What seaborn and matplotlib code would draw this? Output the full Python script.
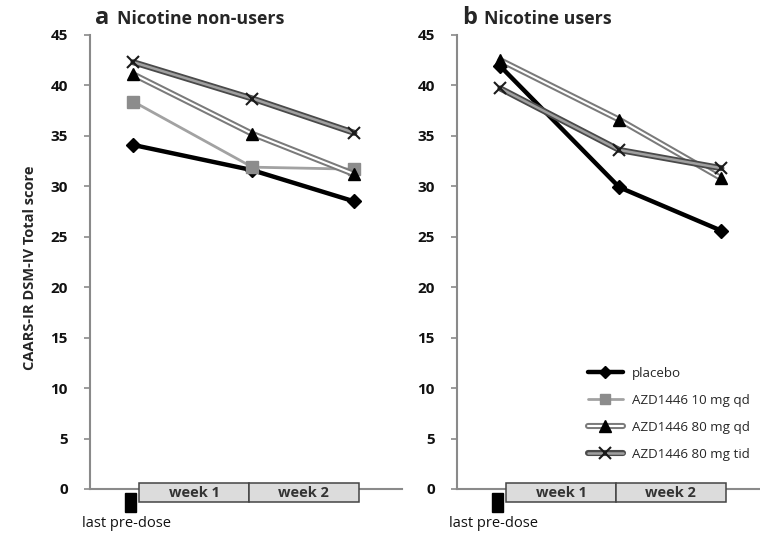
import matplotlib
matplotlib.use("Agg")
import matplotlib.pyplot as plt
import matplotlib.patheffects as pe
from matplotlib.lines import Line2D
from matplotlib.patches import Rectangle
import seaborn as sns
import pandas as pd

# study day of each visit: last pre-dose, end of week 1, end of week 2
days = [0, 7, 13]
week_labels = ["week 1", "week 2"]

treatments = ["placebo", "AZD1446 10 mg qd", "AZD1446 80 mg qd", "AZD1446 80 mg tid"]

# CAARS-IR DSM-IV total score
nonusers_placebo = [34.1, 31.6, 28.5]
nonusers_10qd = [38.4, 31.9, 31.7]
nonusers_80qd = [41.1, 35.2, 31.2]
nonusers_80tid = [42.3, 38.7, 35.3]

users_placebo = [41.9, 29.9, 25.6]
users_80qd = [42.5, 36.6, 30.8]
users_80tid = [39.7, 33.6, 31.8]

panels = [
    ("a", "Nicotine non-users",
     {"placebo": nonusers_placebo, "AZD1446 10 mg qd": nonusers_10qd,
      "AZD1446 80 mg qd": nonusers_80qd, "AZD1446 80 mg tid": nonusers_80tid}),
    ("b", "Nicotine users",
     {"placebo": users_placebo, "AZD1446 80 mg qd": users_80qd,
      "AZD1446 80 mg tid": users_80tid}),
]

styles = {
    "placebo": dict(color="black", lw=3.2, marker="D", ms=7, mfc="black", mec="black", mew=1, fx=None),
    "AZD1446 10 mg qd": dict(color="#a2a2a2", lw=2.0, marker="s", ms=8, mfc="#8c8c8c", mec="#8c8c8c", mew=1, fx=None),
    "AZD1446 80 mg qd": dict(color="white", lw=1.5, marker="^", ms=9, mfc="black", mec="black", mew=1,
                             fx=[pe.Stroke(linewidth=4.4, foreground="#7a7a7a"), pe.Normal()]),
    "AZD1446 80 mg tid": dict(color="#a0a0a0", lw=1.8, marker="x", ms=9, mfc="black", mec="#1a1a1a", mew=1.5,
                              fx=[pe.Stroke(linewidth=4.4, foreground="#4a4a4a"), pe.Normal()]),
}

sns.set_style("white")
plt.rcParams["font.family"] = ["Open Sans", "DejaVu Sans"]

fig = plt.figure(figsize=(7.6, 5.35), dpi=100)
W, H = 760, 535


def fig_axes(left, top, right, bottom):
    return fig.add_axes([left / W, 1 - bottom / H, (right - left) / W, (bottom - top) / H])


axes = [fig_axes(90, 35, 402, 489), fig_axes(457, 35, 769, 489)]

for ax, (letter, title, series) in zip(axes, panels):
    rows = []
    for name, vals in series.items():
        for d, v in zip(days, vals):
            rows.append({"day": d, "score": v, "treatment": name})
    df = pd.DataFrame(rows)
    for name in treatments:
        if name not in series:
            continue
        st = styles[name]
        sub = df[df["treatment"] == name]
        # the line itself (with its outline effect)
        sns.lineplot(data=sub, x="day", y="score", ax=ax, color=st["color"], lw=st["lw"], legend=False)
        line = ax.lines[-1]
        if st["fx"] is not None:
            line.set_path_effects(st["fx"])
        line.set_clip_on(False)
        # markers on top, without the outline
        sns.lineplot(data=sub, x="day", y="score", ax=ax, linestyle="", marker=st["marker"],
                     markersize=st["ms"], markerfacecolor=st["mfc"], markeredgecolor=st["mec"],
                     markeredgewidth=st["mew"], color=st["mec"], legend=False)
        ax.lines[-1].set_clip_on(False)

    ax.set_xlim(-2.55, 15.8)
    ax.set_ylim(0, 45)
    ax.set_yticks(range(0, 46, 5))
    ax.set_xticks([])
    ax.set_xlabel("")
    ax.set_ylabel("")
    for s in ["top", "right"]:
        ax.spines[s].set_visible(False)
    for s in ["left", "bottom"]:
        ax.spines[s].set_color("#8a8a8a")
        ax.spines[s].set_linewidth(1.5)
    ax.tick_params(axis="y", left=True, length=4, width=1.2, color="#8a8a8a", pad=12,
                   labelsize=11, labelcolor="#111111")
    for lab in ax.get_yticklabels():
        lab.set_fontweight("bold")

    # week boxes under the x axis
    edges = [0.36, 6.8, 13.25]
    for i, wl in enumerate(week_labels):
        ax.add_patch(Rectangle((edges[i], -1.3), edges[i + 1] - edges[i], 1.9,
                               facecolor="#dcdcdc", edgecolor="#444444", lw=1.1, clip_on=False, zorder=5))
        ax.text((edges[i] + edges[i + 1]) / 2, -0.38, wl, ha="center", va="center",
                fontsize=10.5, fontweight="bold", color="#333333", zorder=6, clip_on=False)
    ax.add_patch(Rectangle((-0.47, -2.3), 0.6, 1.9, facecolor="black", edgecolor="black",
                           clip_on=False, zorder=5))
    ax.text(-0.4, -3.45, "last pre-dose", ha="center", va="center", fontsize=10.5,
            color="#111111", clip_on=False)

    x0 = ax.get_position().x0 * W
    fig.text((x0 + 5) / W, 1 - 24 / H, letter, fontsize=17, fontweight="bold", va="baseline")
    fig.text((x0 + 27) / W, 1 - 24 / H, title, fontsize=12.8, fontweight="bold", va="baseline")

fig.text(30 / W, 1 - 268 / H, "CAARS-IR DSM-IV Total score", rotation=90, ha="center", va="center",
         fontsize=10.5, fontweight="bold")

handles = []
for name in treatments:
    st = styles[name]
    ln = Line2D([], [], color=st["color"], lw=st["lw"])
    if st["fx"] is not None:
        ln.set_path_effects(st["fx"])
    mk = Line2D([], [], linestyle="", marker=st["marker"], markersize=st["ms"] - 1,
                markerfacecolor=st["mfc"], markeredgecolor=st["mec"], markeredgewidth=st["mew"])
    handles.append((ln, mk))
axes[1].legend(handles, treatments, loc="upper left", bbox_to_anchor=(588 / W, 1 - 367 / H),
               bbox_transform=fig.transFigure, frameon=False, fontsize=9.6, handlelength=2.6,
               handletextpad=0.7, labelspacing=1.05, borderpad=0, borderaxespad=0)

fig.savefig("out.png", dpi=100)
